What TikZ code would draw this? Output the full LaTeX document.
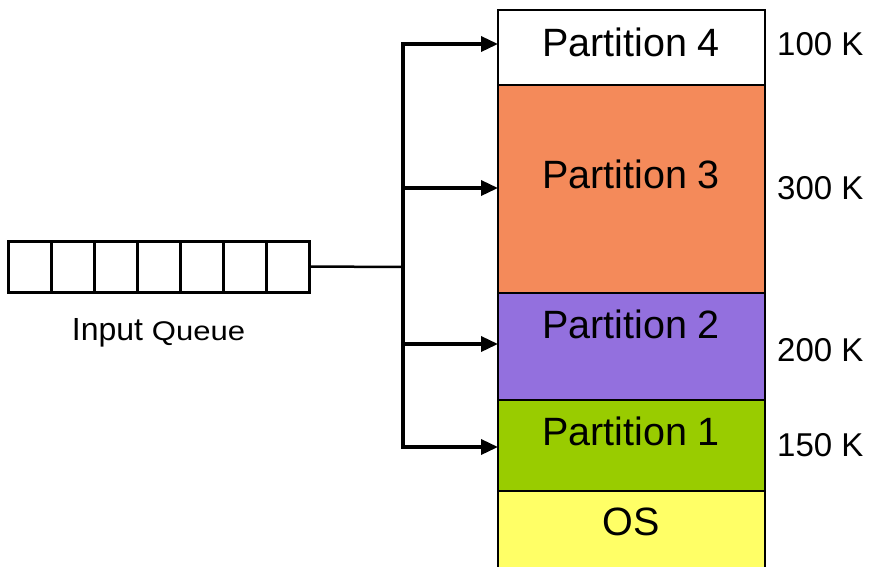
\documentclass[tikz,border=0pt]{standalone}
\usepackage{fontspec}
\setmainfont{Liberation Sans}
\usetikzlibrary{arrows.meta}
\definecolor{porange}{RGB}{244,138,90}
\definecolor{ppurple}{RGB}{147,112,222}
\definecolor{pgreen}{RGB}{153,204,0}
\definecolor{pyellow}{RGB}{255,255,102}
\tikzset{
  part/.style={draw=black, line width=1.8pt, minimum width=267pt, inner sep=0pt, outer sep=0pt},
  cell/.style={draw=black, line width=3pt, minimum width=43pt, minimum height=51pt, inner sep=0pt, outer sep=0pt},
  ptext/.style={font=\fontsize{39.5}{46}\selectfont, inner sep=0pt},
  ktext/.style={font=\fontsize{33}{39}\selectfont, inner sep=0pt},
  conn/.style={line width=3.5pt},
  arr/.style={line width=3.5pt, -{Triangle[length=17pt,width=15pt]}}
}
\begin{document}
\begin{tikzpicture}[x=1pt,y=-1pt]
\clip (0,0) rectangle (869,566);
\fill[white] (0,0) rectangle (869,566);
% memory partitions
\node[part, fill=white,   minimum height=75pt]  (p4) at (631.5,47.5) {};
\node[part, fill=porange, minimum height=208pt] (p3) at (631.5,189) {};
\node[part, fill=ppurple, minimum height=107pt] (p2) at (631.5,346.5) {};
\node[part, fill=pgreen,  minimum height=91pt]  (p1) at (631.5,445.5) {};
\node[part, fill=pyellow, minimum height=90pt]  (os) at (631.5,536) {};
% partition texts
\node[ptext] (t4) at (631,42) {Partition 4};
\node[ptext] (t3) at (631,174) {Partition 3};
\node[ptext] (t2) at (631,324) {Partition 2};
\node[ptext] (t1) at (631,431) {Partition 1};
\node[ptext] (tos) at (631,522) {OS};
% sizes
\node[ktext, anchor=west] (k4) at (777,44) {100 K};
\node[ktext, anchor=west] (k3) at (777,188) {300 K};
\node[ktext, anchor=west] (k2) at (777,350) {200 K};
\node[ktext, anchor=west] (k1) at (777,445) {150 K};
% input queue
\foreach \i in {1,...,7} {
  \node[cell] (q\i) at ({8+43*(\i-0.5)},266.5) {};
}
\node[inner sep=0pt] (iq) at (158.5,333) {\fontsize{32}{37}\selectfont Input \fontsize{27}{32}\selectfont\addfontfeature{FakeStretch=1.15}Queue};
% connectors
\coordinate (jm) at (403,267);
\coordinate (j4) at (403,44);
\coordinate (j3) at (403,188);
\coordinate (j2) at (403,344);
\coordinate (j1) at (403,447);
\draw[line width=2.5pt] (q7.east) -- (jm);
\draw[conn] ([yshift=-1.75pt]j4) -- ([yshift=1.75pt]j1);
\draw[arr] ([xshift=-1.75pt]j4) -- (j4 -| p4.west);
\draw[arr] ([xshift=-1.75pt]j3) -- (j3 -| p3.west);
\draw[arr] ([xshift=-1.75pt]j2) -- (j2 -| p2.west);
\draw[arr] ([xshift=-1.75pt]j1) -- (j1 -| p1.west);
\end{tikzpicture}
\end{document}
